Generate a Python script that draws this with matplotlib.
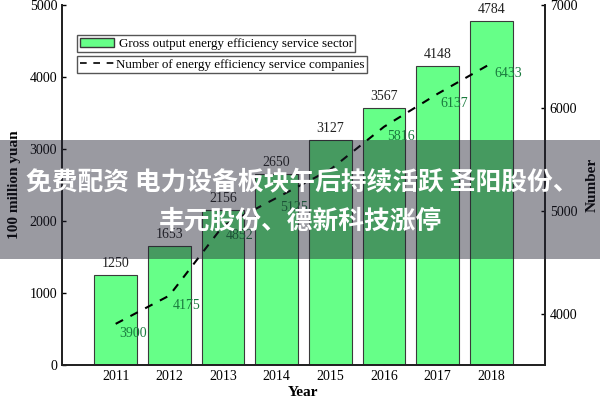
import matplotlib
matplotlib.use("Agg")
import matplotlib.pyplot as plt
from matplotlib.patches import Patch
from matplotlib.lines import Line2D

years = [2011, 2012, 2013, 2014, 2015, 2016, 2017, 2018]
gross_output = [1250, 1653, 2156, 2650, 3127, 3567, 4148, 4784]
companies = [3900, 4175, 4852, 5125, 5400, 5816, 6137, 6433]
company_labels = ["3900", "4175", "4852", "5125", "", "5816", "6137", "6433"]
left_ticks = [0, 1000, 2000, 3000, 4000, 5000]
right_ticks = [4000, 5000, 6000, 7000]

serif = "Liberation Serif"
plt.rcParams["font.family"] = serif

fig = plt.figure(figsize=(6, 4), dpi=100)
ax = fig.add_axes([62/600, 35/400, (545-62)/600, 360/400])
ax2 = ax.twinx()

ax.bar(years, gross_output, width=0.8, color="#66FF88", edgecolor="#3a3a3a", linewidth=0.8, zorder=2)
for x, v in zip(years, gross_output):
    ax.annotate(str(v), (x, v), xytext=(0, 5), textcoords="offset pixels",
                ha="center", va="bottom", fontsize=10, color="#222222")

ax2.plot(years, companies, color="black", linestyle=(0, (4, 4)), linewidth=1.5, zorder=3)
for x, v, t in zip(years, companies, company_labels):
    if t:
        ax2.annotate(t, (x, v), xytext=(17, -10), textcoords="offset pixels",
                     ha="center", va="center", fontsize=10, color="#1a7a3e")

ax.set_xlim(2010, 2019)
ax.set_ylim(0, 5000)
ax2.set_ylim(3500, 7000)
ax.set_xticks(years)
ax.set_yticks(left_ticks)
ax2.set_yticks(right_ticks)
ax.tick_params(direction="in", length=3, labelsize=10, width=1)
ax2.tick_params(direction="in", length=3, labelsize=10, width=1)
for a in (ax, ax2):
    a.spines["top"].set_visible(False)
    for s in ("left", "right", "bottom"):
        a.spines[s].set_linewidth(1.3)
        a.spines[s].set_color("#222222")

ax.set_xlabel("Year", fontsize=11, fontweight="bold", labelpad=2)
ax.set_ylabel("100 million yuan", fontsize=11, fontweight="bold", labelpad=6)
ax2.set_ylabel("Number", fontsize=11, fontweight="bold", labelpad=6)

leg1 = fig.legend(handles=[Patch(facecolor="#66FF88", edgecolor="#3a3a3a")],
                  labels=["Gross output energy efficiency service sector"],
                  loc="upper left", bbox_to_anchor=(77/600, 1 - 35/400),
                  fontsize=9.4, fancybox=False, edgecolor="#555555", framealpha=1,
                  borderpad=0.2, handlelength=2.6, handletextpad=0.4, borderaxespad=0)
leg2 = fig.legend(handles=[Line2D([], [], color="black", linestyle=(0, (4, 4)), linewidth=1.2)],
                  labels=["Number of energy efficiency service companies"],
                  loc="upper left", bbox_to_anchor=(77/600, 1 - 56/400),
                  fontsize=9.4, fancybox=False, edgecolor="#555555", framealpha=1,
                  borderpad=0.2, handlelength=2.6, handletextpad=0.2, borderaxespad=0)

# translucent banner
fig.patches.append(plt.Rectangle((0, 1 - 259/400), 1, 119/400, transform=fig.transFigure,
                                 facecolor="#202030", alpha=0.45, zorder=10, figure=fig))
cjk = ["Noto Sans CJK SC", "DejaVu Sans"]
fig.text(0.503, 1 - 182/400, "免费配资 电力设备板块午后持续活跃 圣阳股份、", ha="center", va="center",
         color="white", fontsize=18.5, fontweight="bold", family=cjk, zorder=11)
fig.text(0.5, 1 - 221/400, "丰元股份、德新科技涨停", ha="center", va="center",
         color="white", fontsize=18.5, fontweight="bold", family=cjk, zorder=11)

fig.savefig("out.png", dpi=100)
